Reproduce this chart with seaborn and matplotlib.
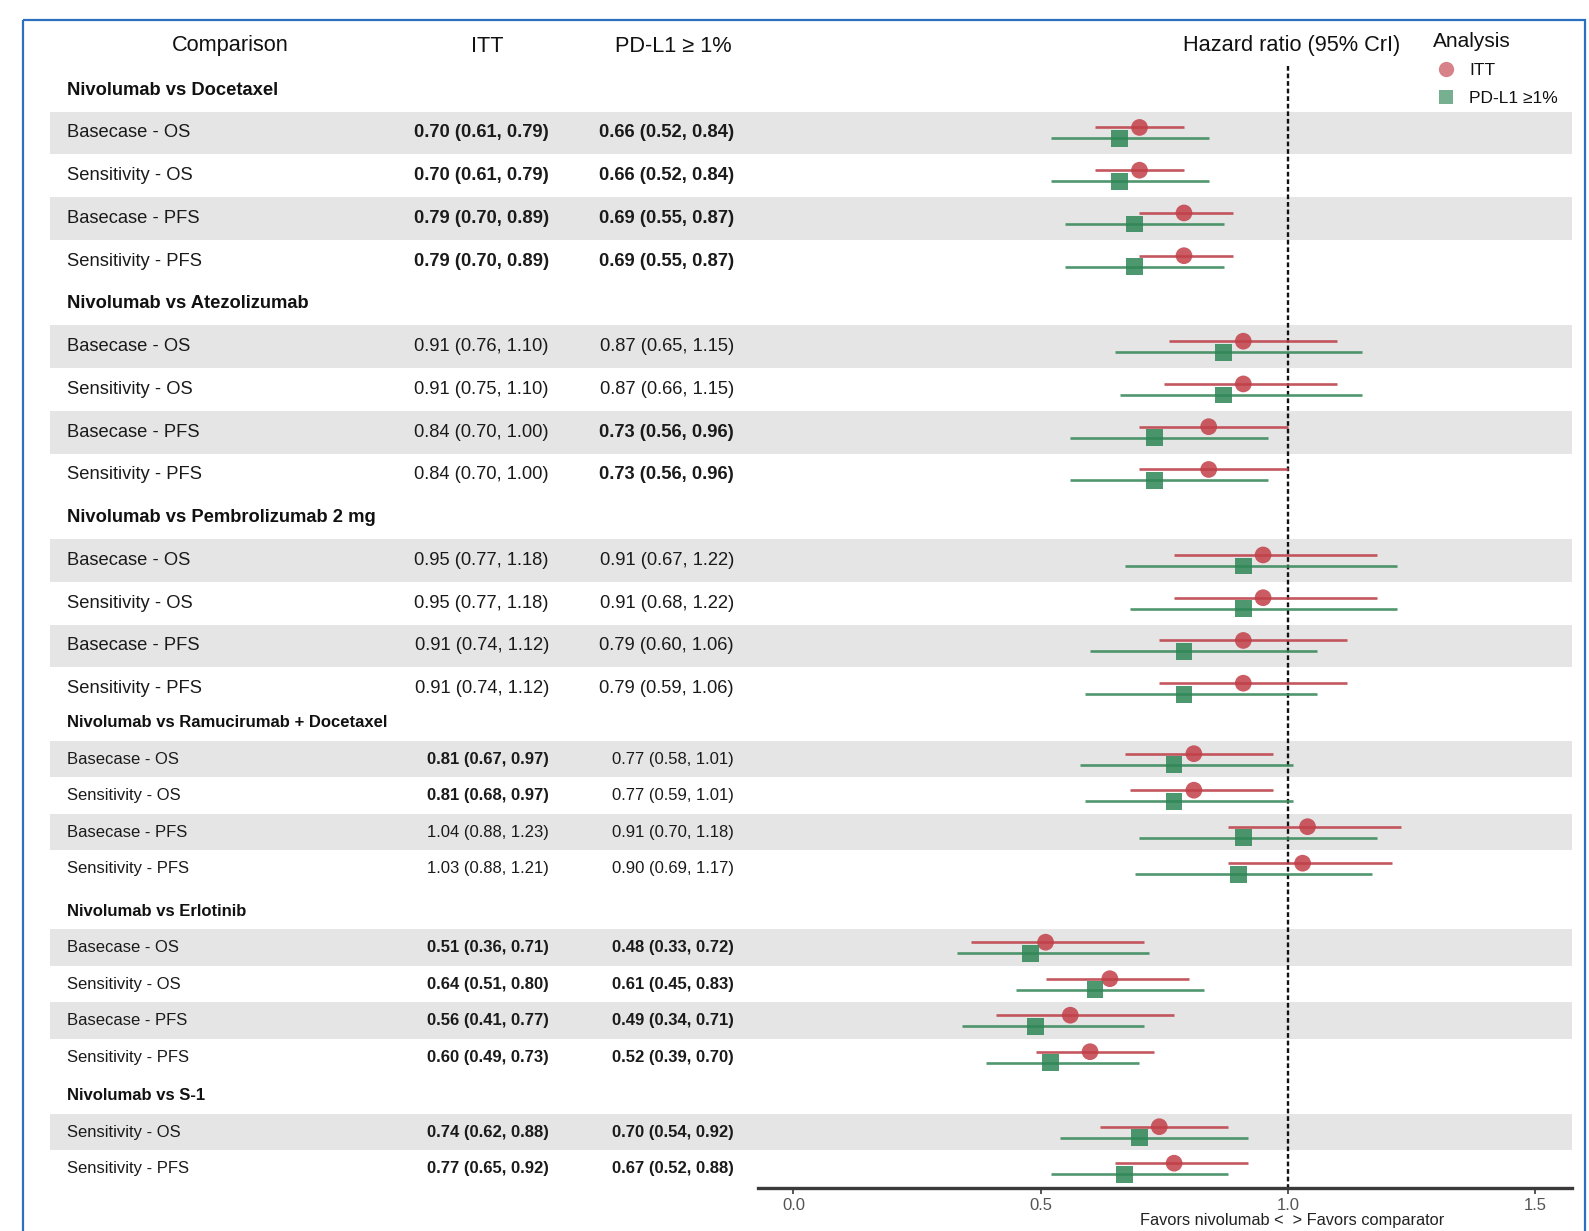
import numpy as np
import pandas as pd
import matplotlib
matplotlib.use("Agg")
import matplotlib.pyplot as plt
from matplotlib import font_manager as fm
from matplotlib.lines import Line2D
from matplotlib.patches import Rectangle
import seaborn as sns

# ---------------- data ----------------
comparisons = [
    "Nivolumab vs Docetaxel",
    "Nivolumab vs Atezolizumab",
    "Nivolumab vs Pembrolizumab 2 mg",
    "Nivolumab vs Ramucirumab + Docetaxel",
    "Nivolumab vs Erlotinib",
    "Nivolumab vs S-1",
]
row_labels = [
    ["Basecase - OS", "Sensitivity - OS", "Basecase - PFS", "Sensitivity - PFS"],
    ["Basecase - OS", "Sensitivity - OS", "Basecase - PFS", "Sensitivity - PFS"],
    ["Basecase - OS", "Sensitivity - OS", "Basecase - PFS", "Sensitivity - PFS"],
    ["Basecase - OS", "Sensitivity - OS", "Basecase - PFS", "Sensitivity - PFS"],
    ["Basecase - OS", "Sensitivity - OS", "Basecase - PFS", "Sensitivity - PFS"],
    ["Sensitivity - OS", "Sensitivity - PFS"],
]
itt_hr = [0.70, 0.70, 0.79, 0.79,  0.91, 0.91, 0.84, 0.84,  0.95, 0.95, 0.91, 0.91,
          0.81, 0.81, 1.04, 1.03,  0.51, 0.64, 0.56, 0.60,  0.74, 0.77]
itt_lo = [0.61, 0.61, 0.70, 0.70,  0.76, 0.75, 0.70, 0.70,  0.77, 0.77, 0.74, 0.74,
          0.67, 0.68, 0.88, 0.88,  0.36, 0.51, 0.41, 0.49,  0.62, 0.65]
itt_hi = [0.79, 0.79, 0.89, 0.89,  1.10, 1.10, 1.00, 1.00,  1.18, 1.18, 1.12, 1.12,
          0.97, 0.97, 1.23, 1.21,  0.71, 0.80, 0.77, 0.73,  0.88, 0.92]
pdl1_hr = [0.66, 0.66, 0.69, 0.69,  0.87, 0.87, 0.73, 0.73,  0.91, 0.91, 0.79, 0.79,
           0.77, 0.77, 0.91, 0.90,  0.48, 0.61, 0.49, 0.52,  0.70, 0.67]
pdl1_lo = [0.52, 0.52, 0.55, 0.55,  0.65, 0.66, 0.56, 0.56,  0.67, 0.68, 0.60, 0.59,
           0.58, 0.59, 0.70, 0.69,  0.33, 0.45, 0.34, 0.39,  0.54, 0.52]
pdl1_hi = [0.84, 0.84, 0.87, 0.87,  1.15, 1.15, 0.96, 0.96,  1.22, 1.22, 1.06, 1.06,
           1.01, 1.01, 1.18, 1.17,  0.72, 0.83, 0.71, 0.70,  0.92, 0.88]
analysis_names = ["ITT", "PD-L1 \u22651%"]
x_ticks = [0.0, 0.5, 1.0, 1.5]

# ---------------- layout (figure pixels, measured from the top) ----------------
W, H = 1589, 1231
DPI = 100
first_header_y = 90.2
header_gap = [0.0, 42.75, 42.75, 34.0, 42.5, 38.5]   # last row of previous block -> header
row_pitch = [42.75, 42.75, 42.75, 36.5, 36.5, 36.5]
axis_y = 1188.0
ax_left, ax_right = 758.0, 1572.0
band_left, band_right = 50.0, 1572.0
label_x, itt_x, pdl1_x = 67.0, 549.0, 734.0
offset = 5.5  # vertical split between the two analyses in one row

names = {f.name for f in fm.fontManager.ttflist}
HAS_NARROW = "Liberation Sans Narrow" in names
NARROW = "Liberation Sans Narrow" if HAS_NARROW else "Liberation Sans"
REGULAR = "Liberation Sans"
k = 1.0 if HAS_NARROW else 0.84
fs_big = [15.8 * k] * 3 + [14.3 * k] * 3

sns.set_theme(style="white")
plt.rcParams["font.family"] = [REGULAR, "DejaVu Sans"]

red_line, red_pt = "#be454d", "#c23f48"
grn_line, grn_pt = "#3d8b5e", "#2f8656"
palette = {analysis_names[0]: red_pt, analysis_names[1]: grn_pt}

# compute row positions
header_ys, row_ys, pitches, fonts, band_flags = [], [], [], [], []
y = first_header_y
for g, labels in enumerate(row_labels):
    y = first_header_y if g == 0 else y + header_gap[g]
    header_ys.append(y)
    for j, _ in enumerate(labels):
        y += row_pitch[g]
        row_ys.append(y)
        pitches.append(row_pitch[g])
        fonts.append(fs_big[g])
        band_flags.append(j % 2 == 0)

flat_labels = [lab for labels in row_labels for lab in labels]
df = pd.DataFrame({
    "row": flat_labels * 2,
    "analysis": [analysis_names[0]] * len(itt_hr) + [analysis_names[1]] * len(pdl1_hr),
    "hr": itt_hr + pdl1_hr,
    "lo": itt_lo + pdl1_lo,
    "hi": itt_hi + pdl1_hi,
    "y": [v - offset for v in row_ys] + [v + offset for v in row_ys],
})

fig = plt.figure(figsize=(W / DPI, H / DPI), dpi=DPI)

# background/table layer in pixel units
bg = fig.add_axes([0, 0, 1, 1])
bg.set_xlim(0, W)
bg.set_ylim(H, 0)
bg.axis("off")

# outer frame
bg.add_patch(Rectangle((23, 20), 1585 - 23, 1300, fill=False, edgecolor="#2a70bf",
                       linewidth=1.6, clip_on=False))

# zebra bands
for yy, p, flag in zip(row_ys, pitches, band_flags):
    if flag:
        bg.add_patch(Rectangle((band_left, yy - p / 2), band_right - band_left, p,
                               facecolor="#e5e5e5", edgecolor="none", zorder=0))

# column headers
hdr_fs = 18.7 * k
hdr_y = 46.0
bg.text(230.5, hdr_y, "Comparison", ha="center", va="center", fontsize=hdr_fs,
        family=NARROW, color="#111111")
bg.text(487.5, hdr_y, "ITT", ha="center", va="center", fontsize=hdr_fs,
        family=NARROW, color="#111111")
bg.text(673, hdr_y, "PD-L1 \u2265 1%", ha="center", va="center", fontsize=hdr_fs,
        family=[NARROW, "DejaVu Sans"], color="#111111")
bg.text(1292, hdr_y, "Hazard ratio (95% CrI)", ha="center", va="center", fontsize=hdr_fs,
        family=NARROW, color="#111111")

# comparison headers
for g, name in enumerate(comparisons):
    bg.text(label_x, header_ys[g], name, ha="left", va="center", fontsize=fs_big[g],
            family=NARROW, fontweight="bold", color="#111111")

# table rows
def fmt(hr, lo, hi):
    return f"{hr:.2f} ({lo:.2f}, {hi:.2f})"

for i, yy in enumerate(row_ys):
    fs = fonts[i]
    bg.text(label_x, yy, flat_labels[i], ha="left", va="center", fontsize=fs,
            family=NARROW, color="#1a1a1a")
    bg.text(itt_x, yy, fmt(itt_hr[i], itt_lo[i], itt_hi[i]), ha="right", va="center",
            fontsize=fs, family=NARROW, color="#1a1a1a",
            fontweight="bold" if itt_hi[i] < 1 else "normal")
    bg.text(pdl1_x, yy, fmt(pdl1_hr[i], pdl1_lo[i], pdl1_hi[i]), ha="right", va="center",
            fontsize=fs, family=NARROW, color="#1a1a1a",
            fontweight="bold" if pdl1_hi[i] < 1 else "normal")

# forest axis
ax = fig.add_axes([ax_left / W, (H - axis_y) / H, (ax_right - ax_left) / W, axis_y / H])
ax.set_facecolor("none")
ax.set_xlim(-0.0718, 1.575)
ax.set_ylim(axis_y, 0)

ax.vlines(1.0, 66, axis_y, colors="#111111", linestyles=(0, (2.0, 1.2)),
          linewidth=1.7, zorder=1)

for a, lc in zip(analysis_names, [red_line, grn_line]):
    sub = df[df["analysis"] == a]
    ax.hlines(sub["y"], sub["lo"], sub["hi"], colors=lc, linewidth=1.9, alpha=0.9, zorder=2)

sns.scatterplot(data=df, x="hr", y="y", hue="analysis", style="analysis",
                markers={analysis_names[0]: "o", analysis_names[1]: "s"},
                palette=palette, s=145, alpha=0.85, linewidth=0, ax=ax,
                legend=False, zorder=3)

ax.set_xlabel("")
ax.set_ylabel("")
ax.set_yticks([])
ax.set_xticks(x_ticks)
ax.set_xticklabels([f"{t:.1f}" for t in x_ticks], family=NARROW, fontsize=12.0,
                   color="#555555")
for s in ["top", "right", "left"]:
    ax.spines[s].set_visible(False)
ax.spines["bottom"].set_color("#3a3a3a")
ax.spines["bottom"].set_linewidth(2.4)
ax.tick_params(axis="x", direction="out", length=4, width=1.2, color="#3a3a3a", pad=3,
               bottom=True)

bg.text(1292, 1221, "Favors nivolumab <  > Favors comparator", ha="center", va="center",
        fontsize=14 * k, family=NARROW, color="#222222")

# legend
handles = [
    Line2D([], [], marker="o", linestyle="none", markersize=11, markerfacecolor=red_pt,
           markeredgewidth=0, alpha=0.65),
    Line2D([], [], marker="s", linestyle="none", markersize=10, markerfacecolor=grn_pt,
           markeredgewidth=0, alpha=0.65),
]
leg = fig.legend(handles, analysis_names, title="Analysis", loc="upper left",
                 bbox_to_anchor=(1433 / W, 1 - 32 / H), frameon=False, alignment="left",
                 fontsize=12.5, title_fontsize=15, handlelength=1.5, handletextpad=0.6,
                 labelspacing=0.7, borderpad=0, borderaxespad=0)
leg.get_title().set_color("#111111")
for t in leg.get_texts():
    t.set_color("#111111")
    t.set_family([REGULAR, "DejaVu Sans"])

fig.savefig("out.png", dpi=DPI, facecolor="white")
